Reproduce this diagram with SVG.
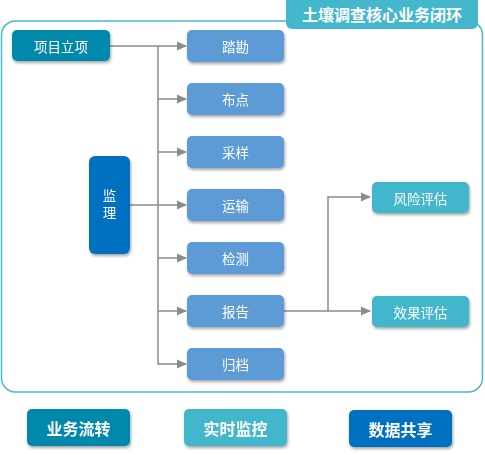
<svg xmlns="http://www.w3.org/2000/svg" width="485" height="455" viewBox="0 0 485 455">
<defs>
<style>
.t{font-family:"Noto Sans CJK SC","Noto Sans",sans-serif;fill:#fff;text-anchor:middle;dominant-baseline:central}
.s{font-size:13.5px}
.b{font-size:16px;font-weight:bold}
.ln{fill:none;stroke:#8c8c8c;stroke-width:1.5}
</style>
<filter id="sh" x="-20%" y="-20%" width="140%" height="150%">
<feDropShadow dx="1" dy="2" stdDeviation="1.5" flood-color="#000" flood-opacity="0.35"/>
</filter>
<marker id="ar" markerWidth="10" markerHeight="10" refX="9" refY="5" orient="auto" markerUnits="userSpaceOnUse">
<path d="M0,0.5 L10,5 L0,9.5 Z" fill="#8c8c8c"/>
</marker>
</defs>
<rect width="485" height="455" fill="#fff"/>
<g id="frame">
<rect x="1.5" y="21" width="481" height="371" rx="14" fill="none" stroke="#4ab9d2" stroke-width="1.5"/>
</g>
<g id="title">
<rect x="286" y="-6" width="192" height="35" rx="6" fill="#43b7cc"/>
<text class="t b" x="382" y="14">土壤调查核心业务闭环</text>
</g>
<g id="connectors">
<path class="ln" d="M110,46 H186" marker-end="url(#ar)"/>
<path class="ln" d="M158,46 V364 H186" marker-end="url(#ar)"/>
<path class="ln" d="M158,99 H186" marker-end="url(#ar)"/>
<path class="ln" d="M158,152 H186" marker-end="url(#ar)"/>
<path class="ln" d="M130,205 H186" marker-end="url(#ar)"/>
<path class="ln" d="M158,258 H186" marker-end="url(#ar)"/>
<path class="ln" d="M158,311 H186" marker-end="url(#ar)"/>
<path class="ln" d="M284,311 H370" marker-end="url(#ar)"/>
<path class="ln" d="M328,311 V197 H370" marker-end="url(#ar)"/>
</g>
<g id="n-xmlx" filter="url(#sh)"><rect x="12" y="30" width="98" height="31" rx="5" fill="#0589aa"/><text class="t s" x="61" y="45.5">项目立项</text></g>
<g id="n-jl" filter="url(#sh)"><rect x="89" y="156" width="41" height="98" rx="6" fill="#0070c0"/><text class="t s" x="109.5" y="206" writing-mode="vertical-rl" letter-spacing="3">监理</text></g>
<g id="n-tk" filter="url(#sh)"><rect x="187" y="30" width="97" height="32" rx="5" fill="#5b9bd5"/><text class="t s" x="235.5" y="46">踏勘</text></g>
<g id="n-bd" filter="url(#sh)"><rect x="187" y="83" width="97" height="32" rx="5" fill="#5b9bd5"/><text class="t s" x="235.5" y="99">布点</text></g>
<g id="n-cy" filter="url(#sh)"><rect x="187" y="136" width="97" height="32" rx="5" fill="#5b9bd5"/><text class="t s" x="235.5" y="152">采样</text></g>
<g id="n-ys" filter="url(#sh)"><rect x="187" y="189" width="97" height="32" rx="5" fill="#5b9bd5"/><text class="t s" x="235.5" y="205">运输</text></g>
<g id="n-jc" filter="url(#sh)"><rect x="187" y="242" width="97" height="32" rx="5" fill="#5b9bd5"/><text class="t s" x="235.5" y="258">检测</text></g>
<g id="n-bg" filter="url(#sh)"><rect x="187" y="295" width="97" height="32" rx="5" fill="#5b9bd5"/><text class="t s" x="235.5" y="311">报告</text></g>
<g id="n-gd" filter="url(#sh)"><rect x="187" y="348" width="97" height="32" rx="5" fill="#5b9bd5"/><text class="t s" x="235.5" y="364">归档</text></g>
<g id="n-fxpg" filter="url(#sh)"><rect x="372" y="182" width="97" height="31" rx="5" fill="#43b7cc"/><text class="t s" x="420.5" y="197.5">风险评估</text></g>
<g id="n-xgpg" filter="url(#sh)"><rect x="372" y="296" width="97" height="31" rx="5" fill="#43b7cc"/><text class="t s" x="420.5" y="311.5">效果评估</text></g>
<g id="n-ywlz" filter="url(#sh)"><rect x="27" y="409" width="103" height="37" rx="5" fill="#0589aa"/><text class="t b" x="78.5" y="427.5">业务流转</text></g>
<g id="n-ssjk" filter="url(#sh)"><rect x="184" y="409" width="103" height="37" rx="5" fill="#43b7cc"/><text class="t b" x="235.5" y="427.5">实时监控</text></g>
<g id="n-sjgx" filter="url(#sh)"><rect x="349" y="410" width="103" height="37" rx="5" fill="#0070c0"/><text class="t b" x="400.5" y="428.5">数据共享</text></g>
</svg>
